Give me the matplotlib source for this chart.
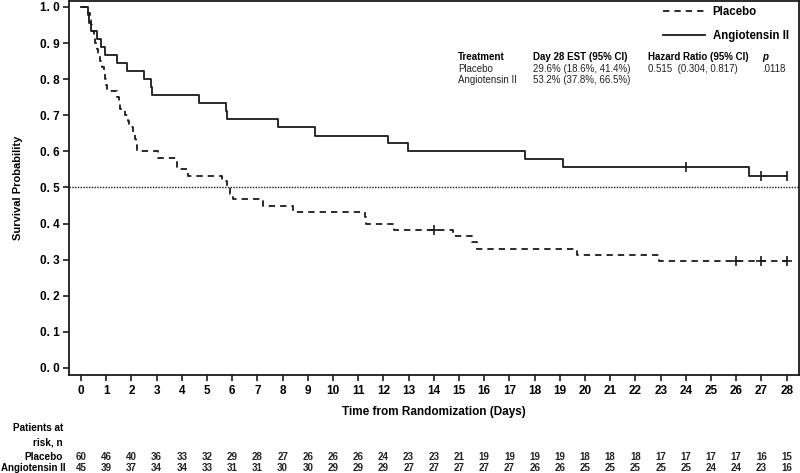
import numpy as np
import matplotlib
matplotlib.use("Agg")
import matplotlib.pyplot as plt
import matplotlib.transforms as mtransforms

plt.rcParams['font.family'] = ['Liberation Sans', 'DejaVu Sans']

# Kaplan-Meier steps (time in days, survival after the event)
placebo_t = [0, 0.28, 0.35, 0.40, 0.44, 0.50, 0.55, 0.62, 0.68, 0.75, 0.82, 0.90,
             0.96, 0.98, 1.02, 1.44, 1.50, 1.55, 1.75, 1.85, 1.92, 2.05, 2.15, 2.20,
             2.24, 3.07, 3.80, 3.82, 4.26, 5.58, 5.80, 5.90, 6.05, 7.24, 8.43, 11.25,
             11.30, 12.40, 14.78, 15.50, 15.70, 19.70, 22.95, 28.0]
placebo_s = [1.0, 0.983, 0.967, 0.950, 0.933, 0.917, 0.900, 0.883, 0.867, 0.850, 0.833,
             0.817, 0.800, 0.783, 0.767, 0.750, 0.733, 0.717, 0.700, 0.683, 0.667, 0.650,
             0.633, 0.617, 0.600, 0.583, 0.567, 0.550, 0.533, 0.517, 0.500, 0.483, 0.467,
             0.450, 0.433, 0.417, 0.400, 0.383, 0.367, 0.350, 0.331, 0.313, 0.296, 0.296]
placebo_cens_t = [14.0, 26.0, 27.0, 28.0]
placebo_cens_s = [0.383, 0.296, 0.296, 0.296]

angio_t = [0, 0.28, 0.33, 0.38, 0.62, 0.79, 0.96, 1.42, 1.81, 2.51, 2.78, 2.82, 4.67,
           5.74, 5.78, 7.83, 9.29, 12.20, 12.99, 17.62, 19.14, 26.52, 28.0]
angio_s = [1.0, 0.978, 0.956, 0.933, 0.911, 0.889, 0.867, 0.844, 0.822, 0.800, 0.778,
           0.756, 0.733, 0.711, 0.689, 0.667, 0.644, 0.622, 0.600, 0.578, 0.556, 0.532,
           0.532]
angio_cens_t = [24.0, 27.0, 28.0]
angio_cens_s = [0.556, 0.532, 0.532]

days = list(range(29))
risk_placebo = [60, 46, 40, 36, 33, 32, 29, 28, 27, 26, 26, 26, 24, 23, 23, 21, 19, 19,
                19, 19, 18, 18, 18, 17, 17, 17, 17, 16, 15]
risk_angio = [45, 39, 37, 34, 34, 33, 31, 31, 30, 30, 29, 29, 29, 27, 27, 27, 27, 27,
              26, 26, 25, 25, 25, 25, 25, 24, 24, 23, 16]
yticks = [i / 10 for i in range(11)]

W, H = 800, 473
fig = plt.figure(figsize=(8, 4.73), dpi=100)
ax = fig.add_axes([69 / W, 1 - 375 / H, 730 / W, 374 / H])

ax.plot(placebo_t, placebo_s, drawstyle='steps-post', color='#1a1a1a', lw=1.3,
        dashes=(3.5, 2.8), label='Placebo')
ax.plot(angio_t, angio_s, drawstyle='steps-post', color='#1a1a1a', lw=1.3,
        label='Angiotensin II')
ax.plot(placebo_cens_t, placebo_cens_s, '+', color='#1a1a1a', ms=7.5, mew=1.2)
ax.plot(angio_cens_t, angio_cens_s, '|', color='#1a1a1a', ms=7.5, mew=1.2)
ax.axhline(0.5, color='#1a1a1a', lw=1.0, ls=(0, (1, 1)))

ax.set_xlim(-0.476, 28.49)
ax.set_ylim(-0.0194, 1.0166)
ax.set_xticks(days)
ax.set_xticklabels([str(d) for d in days], fontweight='bold', fontsize=8.5)
ax.set_yticks(yticks)
ax.set_yticklabels([f"{v:.1f}".replace('.', '. ') for v in yticks],
                   fontweight='bold', fontsize=8.5)
ax.tick_params(direction='out', length=4, width=1.2, color='#1a1a1a', pad=3)
for sp in ax.spines.values():
    sp.set_linewidth(1.3)
    sp.set_color('#1a1a1a')

ax.set_ylabel('Survival Probability', fontweight='bold', fontsize=8, labelpad=12)
ax.set_xlabel('Time from Randomization (Days)', fontweight='bold', fontsize=8.5,
              labelpad=7)

leg = ax.legend(loc='upper right', bbox_to_anchor=(1.0, 1.015), frameon=False,
                prop={'weight': 'bold', 'size': 8.3}, handlelength=3.6,
                handletextpad=0.7, labelspacing=1.1)

# summary table
tx = lambda px: px / W
ty = lambda py: 1 - py / H
fs = 7
fig.text(tx(458), ty(57), 'Treatment', fontweight='bold', fontsize=fs, va='center')
fig.text(tx(533), ty(57), 'Day 28 EST (95% CI)', fontweight='bold', fontsize=fs, va='center')
fig.text(tx(648), ty(57), 'Hazard Ratio (95% CI)', fontweight='bold', fontsize=fs, va='center')
fig.text(tx(762), ty(57), 'p', fontweight='bold', style='italic', fontsize=fs, va='center')
fig.text(tx(458), ty(68.5), 'Placebo', fontsize=fs, va='center', color='#222222')
fig.text(tx(533), ty(68.5), '29.6% (18.6%, 41.4%)', fontsize=fs, va='center', color='#222222')
fig.text(tx(648), ty(68.5), '0.515  (0.304, 0.817)', fontsize=fs, va='center', color='#222222')
fig.text(tx(762), ty(68.5), '.0118', fontsize=fs, va='center', color='#222222')
fig.text(tx(458), ty(80), 'Angiotensin II', fontsize=fs, va='center', color='#222222')
fig.text(tx(533), ty(80), '53.2% (37.8%, 66.5%)', fontsize=fs, va='center', color='#222222')

# patients at risk
trans = mtransforms.blended_transform_factory(ax.transData, fig.transFigure)
lfs = 7.2
fig.text(tx(63), ty(428), 'Patients at', fontweight='bold', fontsize=lfs, ha='right', va='center')
fig.text(tx(63), ty(442), 'risk, n', fontweight='bold', fontsize=lfs, ha='right', va='center')
fig.text(tx(63), ty(457), 'Placebo', fontweight='bold', fontsize=lfs, ha='right', va='center')
fig.text(tx(1), ty(468), 'Angiotensin II', fontweight='bold', fontsize=7.0, ha='left', va='center')
for d, a, b in zip(days, risk_placebo, risk_angio):
    ax.text(d, ty(457), str(a), transform=trans, ha='center', va='center',
            fontsize=7, fontweight='bold', color='#222222')
    ax.text(d, ty(468), str(b), transform=trans, ha='center', va='center',
            fontsize=7, fontweight='bold', color='#222222')

fig.savefig('out.png', dpi=100)
